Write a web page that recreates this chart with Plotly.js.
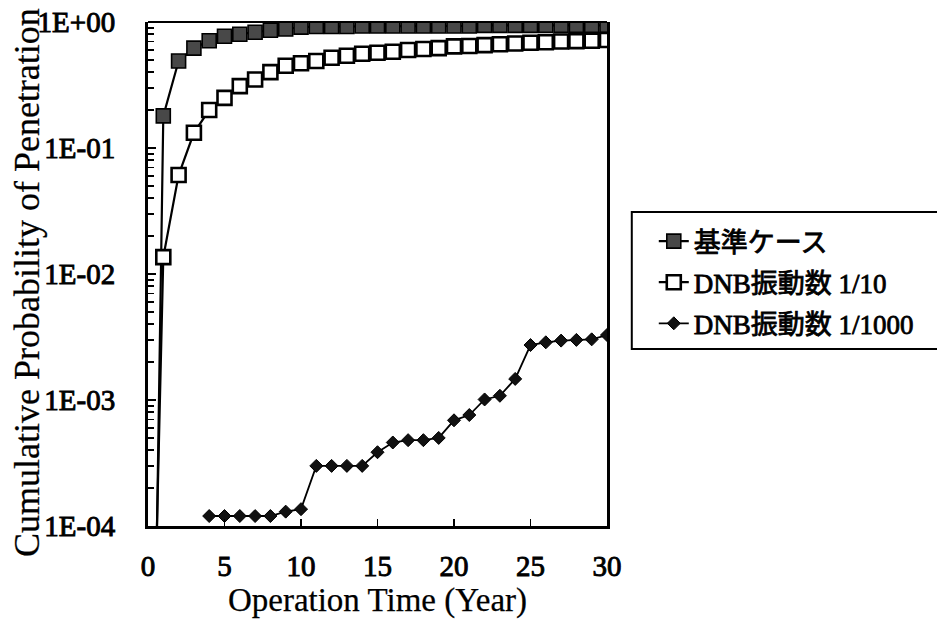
<!DOCTYPE html>
<html>
<head>
<meta charset="utf-8">
<script src="https://cdn.plot.ly/plotly-3.0.1.min.js"></script>
<style>
  html, body { margin: 0; padding: 0; background: #fff; }
  #chart { width: 937px; height: 630px; }
  /* heavier strokes on the tick labels and legend text */
  #chart .xtick text, #chart .ytick text { stroke: #000; stroke-width: 0.9px; }
  #chart .legendtext { stroke: #000; stroke-width: 0.8px; }
  #chart .xtitle, #chart .annotation-text { stroke: #000; stroke-width: 0.25px; }
</style>
</head>
<body>
<div id="chart"></div>
<script>
// Operation years for the two full-period cases
const years = [0, 1, 2, 3, 4, 5, 6, 7, 8, 9, 10, 11, 12, 13, 14, 15,
               16, 17, 18, 19, 20, 21, 22, 23, 24, 25, 26, 27, 28, 29, 30];

// Cumulative probability of penetration, base case (基準ケース)
const baseCase = [2e-9, 0.18, 0.49, 0.62, 0.71, 0.77, 0.80, 0.83, 0.86, 0.88, 0.91,
                  0.92, 0.92, 0.92, 0.93, 0.93, 0.93, 0.93, 0.93, 0.93, 0.93,
                  0.93, 0.94, 0.94, 0.94, 0.94, 0.94, 0.94, 0.94, 0.94, 0.94];

// DNB vibration count reduced to 1/10
const dnb10 = [1e-7, 0.0136, 0.061, 0.132, 0.20, 0.25, 0.31, 0.35, 0.40, 0.45, 0.47,
               0.49, 0.52, 0.54, 0.56, 0.57, 0.58, 0.60, 0.61, 0.62, 0.64,
               0.645, 0.655, 0.665, 0.675, 0.685, 0.69, 0.70, 0.705, 0.71, 0.72];

// DNB vibration count reduced to 1/1000 (values below 1E-04 before year 4)
const years1000 = [4, 5, 6, 7, 8, 9, 10, 11, 12, 13, 14, 15, 16, 17,
                   18, 19, 20, 21, 22, 23, 24, 25, 26, 27, 28, 29, 30];
const dnb1000 = [1.2e-4, 1.2e-4, 1.2e-4, 1.2e-4, 1.2e-4, 1.3e-4, 1.36e-4,
                 3.0e-4, 3.0e-4, 3.0e-4, 3.0e-4, 3.85e-4, 4.6e-4, 4.8e-4,
                 4.8e-4, 5.0e-4, 6.9e-4, 7.6e-4, 1.01e-3, 1.08e-3, 1.47e-3,
                 2.73e-3, 2.87e-3, 2.96e-3, 3.0e-3, 3.03e-3, 3.28e-3];

const seriesNames = ['基準ケース', 'DNB振動数 1/10', 'DNB振動数 1/1000'];

const xTickVals = [0, 5, 10, 15, 20, 25, 30];
const yTickVals = [1, 0.1, 0.01, 0.001, 0.0001];
const yTickText = ['1E+00', '1E-01', '1E-02', '1E-03', '1E-04'];

const xTitle = 'Operation Time (Year)';
const yTitle = 'Cumulative Probability of Penetration';

const serif = '"Liberation Serif", "Times New Roman", "Noto Sans CJK JP", serif';

// minor log ticks at 2..9 within each decade
const minorVals = [];
for (let e = -4; e < 0; e++) {
  for (let d = 2; d <= 9; d++) minorVals.push(d * Math.pow(10, e));
}

const traces = [
  {
    x: years, y: baseCase, name: seriesNames[0], legendgroup: 'a',
    type: 'scatter', mode: 'lines+markers',
    line: { color: '#000', width: 2.2 },
    marker: { symbol: 'square', size: 14, color: '#484848', line: { color: '#000', width: 1.6 } }
  },
  {
    x: years, y: dnb10, name: seriesNames[1], legendgroup: 'b',
    type: 'scatter', mode: 'lines+markers',
    line: { color: '#000', width: 2.2 },
    marker: { symbol: 'square', size: 14, color: '#fff', line: { color: '#000', width: 2.6 } }
  },
  {
    x: years1000, y: dnb1000, name: seriesNames[2], legendgroup: 'c',
    type: 'scatter', mode: 'lines+markers',
    line: { color: '#000', width: 1.8 },
    marker: { symbol: 'diamond', size: 10, color: '#111', line: { color: '#000', width: 1 } }
  }
];

// short outside marks on the value axis at the final values of the reduced cases
function edgeMark(v) {
  return {
    type: 'line', xref: 'paper', yref: 'y',
    x0: -0.035, x1: 0, y0: Math.log10(v), y1: Math.log10(v),
    line: { color: '#000', width: 2 }
  };
}

const layout = {
  width: 937, height: 630,
  paper_bgcolor: '#fff', plot_bgcolor: '#fff',
  margin: { l: 148, r: 330, t: 22, b: 104, autoexpand: false },
  font: { family: serif, color: '#000' },
  showlegend: true,
  legend: {
    x: 1.054, y: 0.613, xanchor: 'left', yanchor: 'top',
    bgcolor: 'rgba(0,0,0,0)', borderwidth: 0,
    font: { family: serif, size: 27, color: '#000' },
    traceorder: 'grouped', tracegroupgap: 3, itemwidth: 30, indentation: 22
  },
  xaxis: {
    range: [0, 30], tickmode: 'array', tickvals: xTickVals,
    ticks: 'inside', ticklen: 7, tickwidth: 1.5, tickcolor: '#000',
    showline: true, linecolor: '#000', linewidth: 3, mirror: false,
    showgrid: false, zeroline: false,
    tickfont: { family: serif, size: 29 },
    ticklabelstandoff: 12,
    title: { text: xTitle, font: { family: serif, size: 33 }, standoff: 8 }
  },
  yaxis: {
    type: 'log', range: [-4, 0],
    tickmode: 'array', tickvals: yTickVals, ticktext: yTickText,
    ticks: 'inside', ticklen: 8, tickwidth: 1.5, tickcolor: '#000',
    minor: { tickmode: 'array', tickvals: minorVals, ticks: 'inside', ticklen: 6, tickwidth: 1.5, tickcolor: '#000', showgrid: false },
    showline: true, linecolor: '#000', linewidth: 3, mirror: true,
    showgrid: false, zeroline: false,
    tickfont: { family: serif, size: 29 },
    ticklabelstandoff: 24
  },
  annotations: [
    { text: yTitle, xref: 'paper', yref: 'paper', x: -0.2636, y: 0.482,
      xanchor: 'center', yanchor: 'middle', textangle: -90, showarrow: false,
      font: { family: serif, size: 36, color: '#000' } }
  ],
  shapes: [
    { type: 'line', xref: 'paper', yref: 'paper', x0: 0, x1: 1, y0: 1, y1: 1,
      line: { color: '#000', width: 2 } },
    // legend frame, running off the right edge
    { type: 'rect', xref: 'paper', yref: 'paper', x0: 1.054, x1: 1.74, y0: 0.351, y1: 0.623,
      line: { color: '#000', width: 2 }, fillcolor: 'rgba(0,0,0,0)' },
    edgeMark(1),
    edgeMark(dnb10[dnb10.length - 1]),
    edgeMark(dnb1000[dnb1000.length - 1])
  ]
};

Plotly.newPlot('chart', traces, layout, { displayModeBar: false, staticPlot: true });
</script>
</body>
</html>
